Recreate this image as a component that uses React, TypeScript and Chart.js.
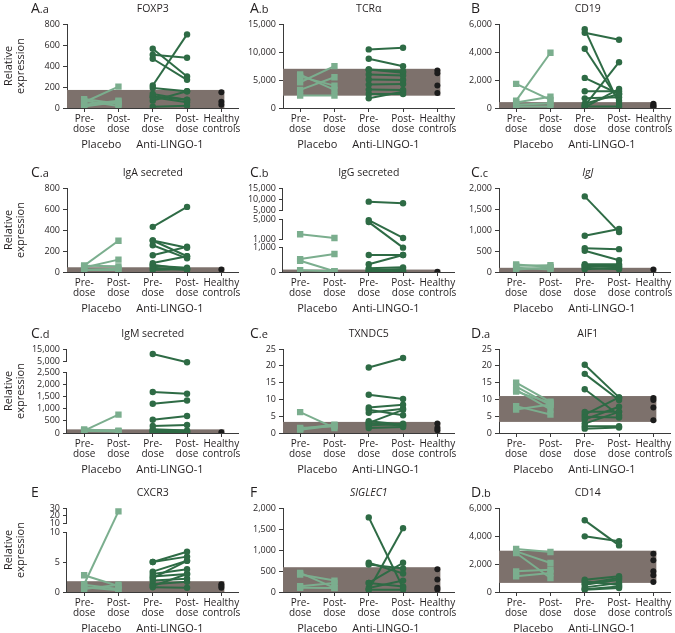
import React, { useEffect, useRef } from 'react';
import { Chart, registerables, LinearScale } from 'chart.js';

Chart.register(...registerables);

const FONT = '"Open Sans", "DejaVu Sans", sans-serif';
const TEXT = '#231f20';
const AXIS = '#3a3a3a';
const PLACEBO_COLOR = '#7bae8e';
const ANTI_COLOR = '#2e6b45';
const HEALTHY_COLOR = '#1c1c1c';
const BOX_COLOR = '#7d716c';

const CATEGORY_LABELS = [['Pre-', 'dose'], ['Post-', 'dose'], ['Pre-', 'dose'], ['Post-', 'dose'], ['Healthy', 'controls']];
const GROUP_LABELS = ['Placebo', 'Anti-LINGO-1'];
const Y_TITLE = ['Relative', 'expression'];

// ---------- data: [pre, post] pairs per patient, healthy control values, healthy range ----------
const FOXP3_PLACEBO = [[55, 204], [85, 40], [30, 70], [15, 60], [70, 20]];
const FOXP3_ANTI = [[564, 300], [507, 478], [469, 268], [214, 701], [191, 159], [134, 76], [102, 54], [70, 159], [13, 22], [110, 80]];
const FOXP3_HEALTHY = [150, 60, 30];
const FOXP3_RANGE = [0, 172];

const TCRA_PLACEBO = [[5975, 3230], [4600, 7470], [3230, 5500], [2210, 2210], [5600, 4000]];
const TCRA_ANTI = [[10460, 10760], [8800, 7470], [6870, 6575], [5975, 5800], [5080, 5020], [4180, 4300], [3290, 3230], [2510, 2510], [1730, 2900], [6870, 6300]];
const TCRA_HEALTHY = [6700, 6200, 4000, 2700];
const TCRA_RANGE = [2200, 7000];

const CD19_PLACEBO = [[1720, 575], [525, 3945], [400, 810], [240, 335], [100, 100]];
const CD19_ANTI = [[5620, 290], [5380, 4875], [4230, 525], [2150, 1000], [1195, 1195], [690, 765], [170, 3270], [50, 1360], [100, 100], [300, 1000]];
const CD19_HEALTHY = [300, 200, 120, 60];
const CD19_RANGE = [0, 420];

const IGA_PLACEBO = [[61, 298], [42, 118], [22, 32], [60, 54], [20, 20]];
const IGA_ANTI = [[430, 620], [300, 230], [255, 130], [160, 240], [300, 150], [85, 150], [60, 40], [40, 20], [20, 30], [70, 25]];
const IGA_HEALTHY = [25];
const IGA_RANGE = [0, 45];

const IGG_PLACEBO = [[2000, 1250], [530, 740], [460, 30], [70, 30]];
const IGG_ANTI = [[9000, 8300], [4800, 1250], [4400, 1000], [700, 700], [320, 700], [150, 190], [80, 120], [30, 40], [10, 10]];
const IGG_HEALTHY = [15];
const IGG_RANGE = [0, 100];

const IGJ_PLACEBO = [[180, 120], [150, 160], [100, 60], [60, 110]];
const IGJ_ANTI = [[1800, 950], [864, 1024], [568, 544], [504, 280], [184, 184], [144, 120], [104, 64], [64, 100], [150, 150]];
const IGJ_HEALTHY = [60];
const IGJ_RANGE = [0, 100];

const IGM_PLACEBO = [[100, 760], [150, 50], [80, 60], [120, 100]];
const IGM_ANTI = [[11000, 4800], [1690, 1620], [1210, 1340], [550, 700], [290, 330], [100, 80], [50, 40], [150, 100], [30, 20]];
const IGM_HEALTHY = [30];
const IGM_RANGE = [0, 150];

const TXNDC5_PLACEBO = [[6.2, 1.5], [1.2, 2.5], [1.5, 2.0], [1.0, 2.2]];
const TXNDC5_ANTI = [[19.5, 22.3], [11.4, 10.1], [7.6, 8.4], [6.9, 5.3], [6.0, 7.2], [3.0, 6.9], [2.2, 2.8], [1.5, 1.8], [2.8, 2.2], [3.5, 2.5]];
const TXNDC5_HEALTHY = [2.8, 1.5, 0.8];
const TXNDC5_RANGE = [0, 3.3];

const AIF1_PLACEBO = [[15.0, 9.3], [13.8, 8.3], [12.8, 7.0], [12.3, 9.0], [8.0, 5.5], [7.0, 8.5]];
const AIF1_ANTI = [[20.3, 10.6], [17.6, 9.8], [13.0, 5.3], [6.3, 6.3], [5.5, 10.6], [4.8, 4.6], [4.0, 7.8], [2.8, 6.3], [2.0, 2.0], [1.3, 1.6]];
const AIF1_HEALTHY = [10.4, 9.8, 7.6, 3.8];
const AIF1_RANGE = [3.3, 11];

const CXCR3_PLACEBO = [[1.3, 25.5], [2.8, 1.0], [1.2, 0.5], [0.8, 0.3], [0.5, 1.2]];
const CXCR3_ANTI = [[5.0, 6.7], [5.0, 5.9], [3.4, 5.2], [3.0, 3.8], [2.6, 3.0], [1.9, 2.2], [1.3, 1.7], [0.8, 0.7], [2.3, 5.2], [1.0, 3.0]];
const CXCR3_HEALTHY = [1.3, 1.0, 0.7];
const CXCR3_RANGE = [0, 1.8];

const SIGLEC1_PLACEBO = [[456, 100], [416, 272], [136, 216], [100, 96]];
const SIGLEC1_ANTI = [[1776, 96], [56, 1520], [696, 440], [656, 560], [216, 696], [96, 272], [216, 130], [56, 56]];
const SIGLEC1_HEALTHY = [540, 300, 100, 60];
const SIGLEC1_RANGE = [0, 590];

const CD14_PLACEBO = [[3070, 2855], [2785, 1000], [1475, 1595], [1120, 1355], [2900, 2070]];
const CD14_ANTI = [[5120, 3330], [3975, 3620], [880, 1120], [760, 500], [525, 880], [330, 640], [165, 285], [600, 1000], [200, 400]];
const CD14_HEALTHY = [2740, 2260, 1475, 1190, 715];
const CD14_RANGE = [650, 2950];

// ---------- broken (segmented) y-axes ----------
const IGG_SEG_VALUES = [[0, 1000], [1000, 5000], [5000, 15000]];
const IGG_SEG_SPAN = [[0, 0.29], [0.39, 0.63], [0.729, 1]];
const IGG_SEG_LINE = [true, true, true];
const IGG_TICKS = [0, 1000, 1000, 5000, 5000, 10000, 15000];
const IGG_TICK_SEG = [0, 0, 1, 1, 2, 2, 2];

const IGM_SEG_VALUES = [[0, 2500], [2500, 5000], [5000, 15000]];
const IGM_SEG_SPAN = [[0, 0.721], [0.721, 0.852], [0.852, 1]];
const IGM_SEG_LINE = [true, false, true];
const IGM_TICKS = [0, 500, 1000, 1500, 2000, 2500, 5000, 15000];
const IGM_TICK_SEG = [0, 0, 0, 0, 0, 0, 2, 2];

const CXCR3_SEG_VALUES = [[0, 10], [10, 30]];
const CXCR3_SEG_SPAN = [[0, 0.714], [0.821, 1]];
const CXCR3_SEG_LINE = [true, true];
const CXCR3_TICKS = [0, 5, 10, 10, 20, 30];
const CXCR3_TICK_SEG = [0, 0, 0, 1, 1, 1];

type Seg = { lo: number; hi: number; p0: number; p1: number; line: boolean };

function makeSegs(values: number[][], span: number[][], line: boolean[]): Seg[] {
  return values.map((v, i) => ({ lo: v[0], hi: v[1], p0: span[i][0], p1: span[i][1], line: line[i] }));
}

function mapInSeg(v: number, s: Seg) {
  const c = Math.min(Math.max(v, s.lo), s.hi);
  return s.p0 + ((c - s.lo) / (s.hi - s.lo)) * (s.p1 - s.p0);
}

function mapBroken(v: number, segs: Seg[]) {
  for (const s of segs) {
    if (v <= s.hi) return mapInSeg(v, s);
  }
  return segs[segs.length - 1].p1;
}

function makeBrokenScale(id: string, segs: Seg[]) {
  class BrokenScale extends (LinearScale as any) {
    static id = id;
    parse(raw: any, index: number) {
      const v = super.parse(raw, index);
      if (v === null || v === undefined || !isFinite(v)) return v;
      return mapBroken(v, segs);
    }
  }
  Chart.register(BrokenScale as any);
  return id;
}

type Broken = { type: string; segs: Seg[]; ticks: number[]; tickSeg: number[] };

const IGG_SEGS = makeSegs(IGG_SEG_VALUES, IGG_SEG_SPAN, IGG_SEG_LINE);
const IGM_SEGS = makeSegs(IGM_SEG_VALUES, IGM_SEG_SPAN, IGM_SEG_LINE);
const CXCR3_SEGS = makeSegs(CXCR3_SEG_VALUES, CXCR3_SEG_SPAN, CXCR3_SEG_LINE);

const IGG_AXIS: Broken = { type: makeBrokenScale('brokenIgG', IGG_SEGS), segs: IGG_SEGS, ticks: IGG_TICKS, tickSeg: IGG_TICK_SEG };
const IGM_AXIS: Broken = { type: makeBrokenScale('brokenIgM', IGM_SEGS), segs: IGM_SEGS, ticks: IGM_TICKS, tickSeg: IGM_TICK_SEG };
const CXCR3_AXIS: Broken = { type: makeBrokenScale('brokenCXCR3', CXCR3_SEGS), segs: CXCR3_SEGS, ticks: CXCR3_TICKS, tickSeg: CXCR3_TICK_SEG };

type Panel = {
  major: string; minor: string; title: string; italic?: boolean;
  placebo: number[][]; anti: number[][]; healthy: number[]; range: number[];
  yMax?: number; yStep?: number; broken?: Broken; row: number; col: number;
};

const PANELS: Panel[] = [
  { major: 'A', minor: '.a', title: 'FOXP3', placebo: FOXP3_PLACEBO, anti: FOXP3_ANTI, healthy: FOXP3_HEALTHY, range: FOXP3_RANGE, yMax: 800, yStep: 200, row: 0, col: 0 },
  { major: 'A', minor: '.b', title: 'TCRα', placebo: TCRA_PLACEBO, anti: TCRA_ANTI, healthy: TCRA_HEALTHY, range: TCRA_RANGE, yMax: 15000, yStep: 5000, row: 0, col: 1 },
  { major: 'B', minor: '', title: 'CD19', placebo: CD19_PLACEBO, anti: CD19_ANTI, healthy: CD19_HEALTHY, range: CD19_RANGE, yMax: 6000, yStep: 2000, row: 0, col: 2 },
  { major: 'C', minor: '.a', title: 'IgA secreted', placebo: IGA_PLACEBO, anti: IGA_ANTI, healthy: IGA_HEALTHY, range: IGA_RANGE, yMax: 800, yStep: 200, row: 1, col: 0 },
  { major: 'C', minor: '.b', title: 'IgG secreted', placebo: IGG_PLACEBO, anti: IGG_ANTI, healthy: IGG_HEALTHY, range: IGG_RANGE, broken: IGG_AXIS, row: 1, col: 1 },
  { major: 'C', minor: '.c', title: 'IgJ', italic: true, placebo: IGJ_PLACEBO, anti: IGJ_ANTI, healthy: IGJ_HEALTHY, range: IGJ_RANGE, yMax: 2000, yStep: 500, row: 1, col: 2 },
  { major: 'C', minor: '.d', title: 'IgM secreted', placebo: IGM_PLACEBO, anti: IGM_ANTI, healthy: IGM_HEALTHY, range: IGM_RANGE, broken: IGM_AXIS, row: 2, col: 0 },
  { major: 'C', minor: '.e', title: 'TXNDC5', placebo: TXNDC5_PLACEBO, anti: TXNDC5_ANTI, healthy: TXNDC5_HEALTHY, range: TXNDC5_RANGE, yMax: 25, yStep: 5, row: 2, col: 1 },
  { major: 'D', minor: '.a', title: 'AIF1', placebo: AIF1_PLACEBO, anti: AIF1_ANTI, healthy: AIF1_HEALTHY, range: AIF1_RANGE, yMax: 25, yStep: 5, row: 2, col: 2 },
  { major: 'E', minor: '', title: 'CXCR3', placebo: CXCR3_PLACEBO, anti: CXCR3_ANTI, healthy: CXCR3_HEALTHY, range: CXCR3_RANGE, broken: CXCR3_AXIS, row: 3, col: 0 },
  { major: 'F', minor: '', title: 'SIGLEC1', italic: true, placebo: SIGLEC1_PLACEBO, anti: SIGLEC1_ANTI, healthy: SIGLEC1_HEALTHY, range: SIGLEC1_RANGE, yMax: 2000, yStep: 500, row: 3, col: 1 },
  { major: 'D', minor: '.b', title: 'CD14', placebo: CD14_PLACEBO, anti: CD14_ANTI, healthy: CD14_HEALTHY, range: CD14_RANGE, yMax: 6000, yStep: 2000, row: 3, col: 2 },
];

// ---------- layout ----------
const CANVAS_W = 243;
const CANVAS_H = 160;
const COL_LEFT = [0, 216, 432];
const ROW_CHART_TOP = [24, 188, 349, 508];
const PAD_TOP = 24;
const Y_AXIS_W = 67;
const X_AXIS_H = 50;
const LABEL_X = [31, 34, 39];

function makeDecor(p: Panel) {
  return {
    id: 'panelDecor',
    beforeDatasetsDraw(chart: any) {
      const { ctx, chartArea: a } = chart;
      const xs = chart.scales.x;
      const ys = chart.scales.y;
      const yTop = ys.getPixelForValue(ys.parse(p.range[1]));
      const yBot = ys.getPixelForValue(ys.parse(p.range[0]));
      const xR = xs.getPixelForValue(4) + 3;
      ctx.save();
      ctx.fillStyle = BOX_COLOR;
      ctx.fillRect(a.left, yTop, xR - a.left, yBot - yTop);
      ctx.restore();
    },
    afterDraw(chart: any) {
      const { ctx, chartArea: a } = chart;
      const xs = chart.scales.x;
      const ys = chart.scales.y;
      ctx.save();
      ctx.fillStyle = TEXT;
      ctx.textBaseline = 'alphabetic';
      // title
      ctx.textAlign = 'center';
      ctx.font = `${p.italic ? 'italic ' : ''}10.5px ${FONT}`;
      ctx.fillText(p.title, (a.left + a.right) / 2 + (p.col === 2 ? 3 : 0), a.top - 12);
      // panel label
      ctx.textAlign = 'left';
      const lx = LABEL_X[p.col];
      ctx.font = `14px ${FONT}`;
      ctx.fillText(p.major, lx, a.top - 11.5);
      const w = ctx.measureText(p.major).width;
      if (p.minor) {
        ctx.font = `11px ${FONT}`;
        ctx.fillText(p.minor, lx + w, a.top - 11.5);
      }
      // group labels
      ctx.textAlign = 'center';
      ctx.textBaseline = 'middle';
      ctx.font = `11px ${FONT}`;
      ctx.fillText(GROUP_LABELS[0], (xs.getPixelForValue(0) + xs.getPixelForValue(1)) / 2, a.bottom + 36.5);
      ctx.fillText(GROUP_LABELS[1], (xs.getPixelForValue(2) + xs.getPixelForValue(3)) / 2, a.bottom + 36.5);
      // broken axis line pieces
      if (p.broken) {
        ctx.strokeStyle = AXIS;
        ctx.lineWidth = 1;
        const x = Math.round(a.left) - 0.5;
        for (const s of p.broken.segs) {
          if (!s.line) continue;
          ctx.beginPath();
          ctx.moveTo(x, ys.getPixelForValue(s.p0));
          ctx.lineTo(x, ys.getPixelForValue(s.p1));
          ctx.stroke();
        }
      }
      ctx.restore();
    },
  };
}

function buildConfig(p: Panel): any {
  const datasets: any[] = [];
  p.placebo.forEach(([pre, post]) =>
    datasets.push({
      data: [{ x: 0, y: pre }, { x: 1, y: post }],
      borderColor: PLACEBO_COLOR,
      backgroundColor: PLACEBO_COLOR,
      borderWidth: 2,
      pointStyle: 'rect',
      pointRadius: 4.5,
      pointBorderWidth: 0,
      tension: 0,
    })
  );
  p.anti.forEach(([pre, post]) =>
    datasets.push({
      data: [{ x: 2, y: pre }, { x: 3, y: post }],
      borderColor: ANTI_COLOR,
      backgroundColor: ANTI_COLOR,
      borderWidth: 2,
      pointStyle: 'circle',
      pointRadius: 3.2,
      pointBorderWidth: 0,
      tension: 0,
    })
  );
  datasets.push({
    data: p.healthy.map((v) => ({ x: 4, y: v })),
    showLine: false,
    borderColor: HEALTHY_COLOR,
    backgroundColor: HEALTHY_COLOR,
    pointRadius: 3,
    pointBorderWidth: 0,
  });

  const br = p.broken;
  const yScale: any = {
    type: br ? br.type : 'linear',
    min: 0,
    max: br ? 1 : p.yMax,
    afterFit: (s: any) => { s.width = Y_AXIS_W; },
    grid: { display: true, drawOnChartArea: false, drawTicks: true, tickLength: 4, color: AXIS, lineWidth: 1 },
    border: { display: !br, color: AXIS, width: 1 },
    ticks: {
      font: { family: FONT, size: 9 },
      color: TEXT,
      padding: 3,
      autoSkip: false,
      ...(br
        ? { callback: (_v: number, i: number) => br.ticks[i].toLocaleString('en-US') }
        : { stepSize: p.yStep }),
    },
    title: p.col === 0
      ? { display: true, text: Y_TITLE, font: { family: FONT, size: 11, lineHeight: 1.1 }, color: TEXT, padding: { top: 3, bottom: 0 } }
      : { display: false },
  };
  if (br) {
    yScale.afterBuildTicks = (s: any) => {
      s.ticks = br.ticks.map((v, i) => ({ value: mapInSeg(v, br.segs[br.tickSeg[i]]) }));
    };
  }

  return {
    type: 'line',
    data: { datasets },
    plugins: [makeDecor(p)],
    options: {
      responsive: false,
      animation: false,
      locale: 'en-US',
      events: [],
      layout: { padding: { left: 0, right: 3, top: PAD_TOP, bottom: 2 } },
      plugins: { legend: { display: false }, tooltip: { enabled: false }, title: { display: false } },
      scales: {
        x: {
          type: 'linear',
          min: -0.5,
          max: 4.5,
          afterBuildTicks: (s: any) => { s.ticks = CATEGORY_LABELS.map((_, i) => ({ value: i })); },
          afterFit: (s: any) => { s.height = X_AXIS_H; },
          grid: { display: true, drawOnChartArea: false, drawTicks: true, tickLength: 4, color: AXIS, lineWidth: 1 },
          border: { display: true, color: AXIS, width: 1 },
          ticks: {
            callback: (v: number) => CATEGORY_LABELS[v],
            font: { family: FONT, size: 10, lineHeight: 1.0 },
            color: TEXT,
            padding: 2,
            autoSkip: false,
            maxRotation: 0,
            minRotation: 0,
          },
        },
        y: yScale,
      },
    },
  };
}

function PanelChart({ p }: { p: Panel }) {
  const ref = useRef<HTMLCanvasElement>(null);
  useEffect(() => {
    const chart = new Chart(ref.current as HTMLCanvasElement, buildConfig(p));
    return () => chart.destroy();
  }, [p]);
  return (
    <canvas
      ref={ref}
      width={CANVAS_W}
      height={CANVAS_H}
      style={{
        position: 'absolute',
        left: COL_LEFT[p.col],
        top: ROW_CHART_TOP[p.row] - PAD_TOP,
        width: CANVAS_W,
        height: CANVAS_H,
        display: 'block',
      }}
    />
  );
}

export default function App() {
  return (
    <div style={{ position: 'fixed', left: 0, top: 0, width: 675, height: 633, overflow: 'hidden', background: '#fff' }}>
      {PANELS.map((p, i) => (
        <PanelChart key={i} p={p} />
      ))}
    </div>
  );
}
